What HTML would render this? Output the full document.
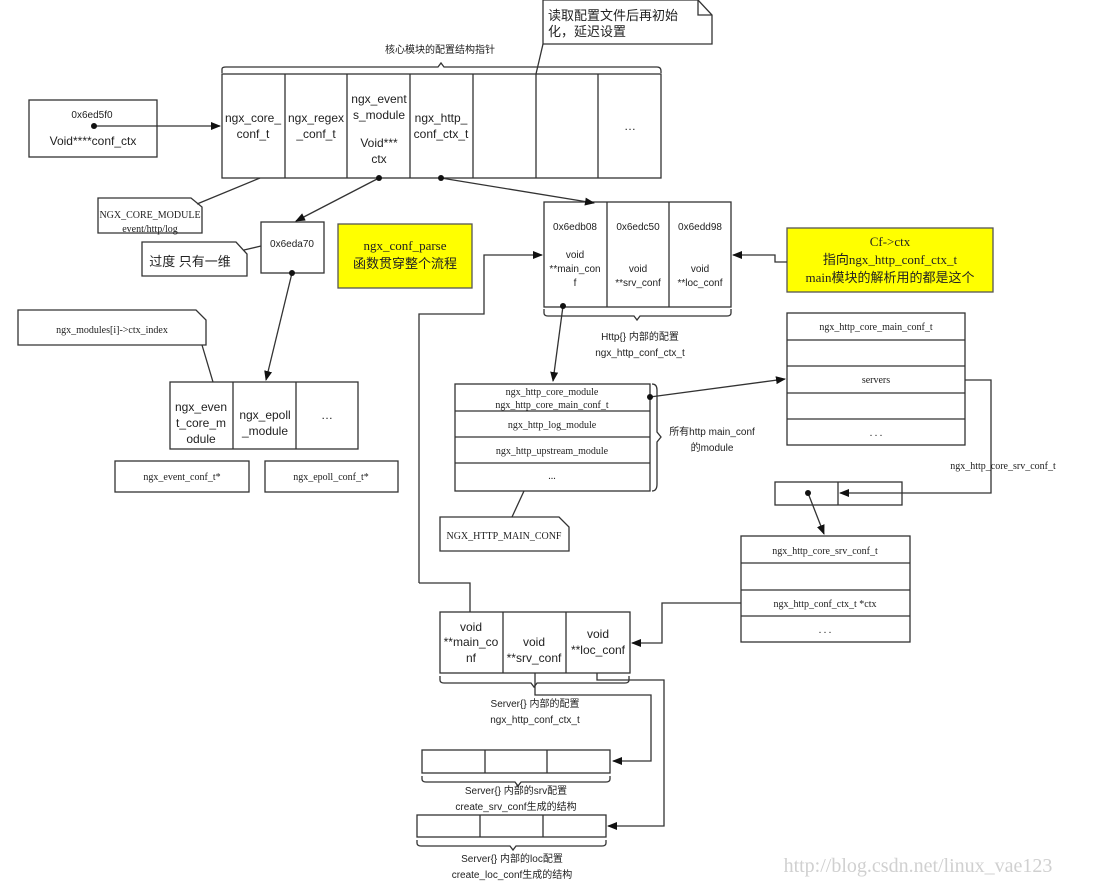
<!DOCTYPE html>
<html><head><meta charset="utf-8"><style>
html,body{margin:0;padding:0;background:#fff;}
svg{display:block;}
text{font-family:"Liberation Sans","Noto Sans CJK SC",sans-serif;fill:#222;}
.m{font-family:"Liberation Serif","Noto Sans CJK SC",serif;}
.s{font-size:10px;}
.n{font-size:12px;}
</style></head><body>
<svg width="1099" height="882" viewBox="0 0 1099 882" xmlns="http://www.w3.org/2000/svg">
<defs><marker id="a" markerWidth="10" markerHeight="8" refX="9" refY="4" orient="auto" markerUnits="userSpaceOnUse"><path d="M0,0 L10,4 L0,8 z" fill="#111"/></marker></defs>
<g fill="none" stroke="#333" stroke-width="1.3">
<rect x="222" y="74" width="439" height="104" fill="#fff"/>
<path d="M285,74V178M347,74V178M410,74V178M473,74V178M536,74V178M598,74V178"/>
<path d="M222,73 V69 Q222,67 226,67 H438 L441,63 L444,67 H657 Q661,67 661,71 V73"/>
<rect x="29" y="100" width="128" height="57"/>
<path d="M94,126 H220" marker-end="url(#a)"/>
<path d="M543,0 V44 H712 V15 L698,0 Z" fill="#fff"/>
<path d="M698,0 V15 H712"/>
<path d="M543,44 L536,74"/>
<path d="M98,198 V233 H202 V207 L191,198 Z"/>
<path d="M197,204 L260,178"/>
<rect x="261" y="222" width="63" height="51"/>
<path d="M379,178 L296,221" marker-end="url(#a)"/>
<path d="M142,242 V276 H247 V254 L236,242 Z"/>
<path d="M244,250 L261,246"/>
<rect x="338" y="224" width="134" height="64" fill="#ffff00" stroke="#555"/>
<path d="M18,310 V345 H206 V320 L196,310 Z"/>
<path d="M202,345 L213,382"/>
<rect x="170" y="382" width="188" height="67"/>
<path d="M233,382V449M296,382V449"/>
<path d="M292,273 L266,380" marker-end="url(#a)"/>
<rect x="115" y="461" width="134" height="31"/>
<rect x="265" y="461" width="133" height="31"/>
<rect x="544" y="202" width="187" height="105"/>
<path d="M607,202V307M669,202V307"/>
<path d="M441,178 L594,203" marker-end="url(#a)"/>
<path d="M544,309 V313 Q544,316 548,316 H634 L637,320 L640,316 H727 Q731,316 731,313 V309"/>
<rect x="787" y="228" width="206" height="64" fill="#ffff00" stroke="#555"/>
<path d="M787,262 H775 V255 H733" marker-end="url(#a)"/>
<path d="M419,583 V314 H484 V255 H542" marker-end="url(#a)"/>
<path d="M419,583 H470 V612"/>
<path d="M563,306 L553,381" marker-end="url(#a)"/>
<rect x="455" y="384" width="195" height="107"/>
<path d="M455,411H650M455,437H650M455,463H650"/>
<path d="M652,384 Q657,384 657,390 V432 L661,437 L657,442 V484 Q657,491 652,491"/>
<path d="M440,517 V551 H569 V527 L559,517 Z"/>
<path d="M524,491 L512,517"/>
<path d="M650,397 L785,379" marker-end="url(#a)"/>
<rect x="787" y="313" width="178" height="132"/>
<path d="M787,340H965M787,366H965M787,393H965M787,419H965"/>
<path d="M965,380 H991 V493 H840" marker-end="url(#a)"/>
<rect x="775" y="482" width="127" height="23"/>
<path d="M838,482V505"/>
<path d="M808,493 L824,534" marker-end="url(#a)"/>
<rect x="741" y="536" width="169" height="106"/>
<path d="M741,563H910M741,590H910M741,616H910"/>
<path d="M741,603 H662 V643 H632" marker-end="url(#a)"/>
<rect x="440" y="612" width="190" height="61"/>
<path d="M503,612V673M566,612V673"/>
<path d="M440,676 V680 Q440,683 444,683 H531 L534,687 L537,683 H625 Q629,683 629,680 V676"/>
<path d="M535,673 V695 H651 V761 H613" marker-end="url(#a)"/>
<path d="M597,673 V680 H664 V826 H608" marker-end="url(#a)"/>
<rect x="422" y="750" width="188" height="23"/>
<path d="M485,750V773M547,750V773"/>
<path d="M422,776 V779 Q422,782 426,782 H515 L518,786 L521,782 H606 Q610,782 610,779 V776"/>
<rect x="417" y="815" width="189" height="22"/>
<path d="M480,815V837M543,815V837"/>
<path d="M417,840 V843 Q417,846 421,846 H510 L513,850 L516,846 H602 Q606,846 606,843 V840"/>
</g>
<g fill="#111"><circle cx="94" cy="126" r="3"/><circle cx="379" cy="178" r="3"/><circle cx="441" cy="178" r="3"/><circle cx="292" cy="273" r="3"/><circle cx="563" cy="306" r="3"/><circle cx="650" cy="397" r="3"/><circle cx="808" cy="493" r="3"/></g>
<g text-anchor="middle">
<text x="440" y="53" class="s">核心模块的配置结构指针</text>
<text x="92" y="118" class="s">0x6ed5f0</text>
<text x="93" y="145" style="font-size:12px">Void****conf_ctx</text>
<text x="253" y="122" class="n">ngx_core_</text><text x="253" y="138" class="n">conf_t</text>
<text x="316" y="122" class="n">ngx_regex</text><text x="316" y="138" class="n">_conf_t</text>
<text x="379" y="103" class="n">ngx_event</text><text x="379" y="119" class="n">s_module</text>
<text x="379" y="147" class="n">Void***</text><text x="379" y="163" class="n">ctx</text>
<text x="441" y="122" class="n">ngx_http_</text><text x="441" y="138" class="n">conf_ctx_t</text>
<text x="630" y="130" class="n">…</text>
<text x="150" y="218" class="s m">NGX_CORE_MODULE</text>
<text x="150" y="232" class="s m">event/http/log</text>
<text x="292" y="247" class="s">0x6eda70</text>
<text x="190" y="266" style="font-size:13px">过度 只有一维</text>
<text x="405" y="250" class="m" style="font-size:13px">ngx_conf_parse</text>
<text x="405" y="268" style="font-size:13px">函数贯穿整个流程</text>
<text x="112" y="333" class="s m">ngx_modules[i]-&gt;ctx_index</text>
<text x="201" y="411" class="n">ngx_even</text><text x="201" y="427" class="n">t_core_m</text><text x="201" y="443" class="n">odule</text>
<text x="265" y="419" class="n">ngx_epoll</text><text x="265" y="435" class="n">_module</text>
<text x="327" y="419" class="n">…</text>
<text x="182" y="480" class="s m">ngx_event_conf_t*</text>
<text x="331" y="480" class="s m">ngx_epoll_conf_t*</text>
<text x="548" y="20" style="font-size:13px" text-anchor="start">读取配置文件后再初始</text>
<text x="548" y="36" style="font-size:13px" text-anchor="start">化，延迟设置</text>
<text x="575" y="230" class="s">0x6edb08</text><text x="638" y="230" class="s">0x6edc50</text><text x="700" y="230" class="s">0x6edd98</text>
<text x="575" y="258" class="s">void</text><text x="575" y="272" class="s">**main_con</text><text x="575" y="286" class="s">f</text>
<text x="638" y="272" class="s">void</text><text x="638" y="286" class="s">**srv_conf</text>
<text x="700" y="272" class="s">void</text><text x="700" y="286" class="s">**loc_conf</text>
<text x="890" y="246" class="m" style="font-size:13px">Cf-&gt;ctx</text>
<text x="890" y="264" style="font-size:13px">指向<tspan class="m">ngx_http_conf_ctx_t</tspan></text>
<text x="890" y="282" style="font-size:13px"><tspan class="m">main</tspan>模块的解析用的都是这个</text>
<text x="640" y="340" class="s">Http{} 内部的配置</text>
<text x="640" y="356" class="s">ngx_http_conf_ctx_t</text>
<text x="552" y="395" class="s m">ngx_http_core_module</text>
<text x="552" y="408" class="s m">ngx_http_core_main_conf_t</text>
<text x="552" y="428" class="s m">ngx_http_log_module</text>
<text x="552" y="454" class="s m">ngx_http_upstream_module</text>
<text x="552" y="479" class="s m">...</text>
<text x="712" y="435" class="s">所有http main_conf</text>
<text x="712" y="451" class="s">的module</text>
<text x="504" y="539" class="s m">NGX_HTTP_MAIN_CONF</text>
<text x="876" y="330" class="s m">ngx_http_core_main_conf_t</text>
<text x="876" y="383" class="s m">servers</text>
<text x="876" y="436" class="s m">. . .</text>
<text x="1003" y="469" class="s m">ngx_http_core_srv_conf_t</text>
<text x="825" y="554" class="s m">ngx_http_core_srv_conf_t</text>
<text x="825" y="607" class="s m">ngx_http_conf_ctx_t  *ctx</text>
<text x="825" y="633" class="s m">. . .</text>
<text x="471" y="631" class="n">void</text><text x="471" y="646" class="n">**main_co</text><text x="471" y="662" class="n">nf</text>
<text x="534" y="646" class="n">void</text><text x="534" y="662" class="n">**srv_conf</text>
<text x="598" y="638" class="n">void</text><text x="598" y="654" class="n">**loc_conf</text>
<text x="535" y="707" class="s">Server{} 内部的配置</text>
<text x="535" y="723" class="s">ngx_http_conf_ctx_t</text>
<text x="516" y="794" class="s">Server{} 内部的srv配置</text>
<text x="516" y="810" class="s">create_srv_conf生成的结构</text>
<text x="512" y="862" class="s">Server{} 内部的loc配置</text>
<text x="512" y="878" class="s">create_loc_conf生成的结构</text>
<text x="918" y="872" class="m" style="font-size:20px;fill:#d0d0d0">http://blog.csdn.net/linux_vae123</text>
</g>
</svg>
</body></html>
